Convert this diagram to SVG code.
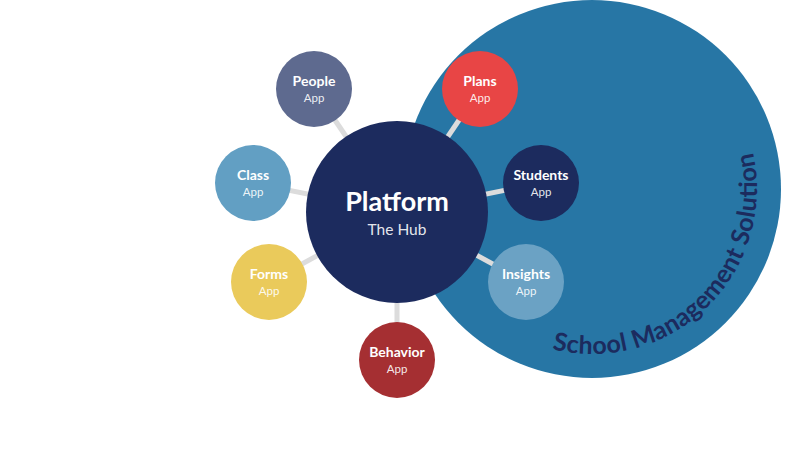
<svg xmlns="http://www.w3.org/2000/svg" xmlns:xlink="http://www.w3.org/1999/xlink" width="800" height="449" viewBox="0 0 800 449">
<style>
.t{font-family:Lato,"Noto Sans",sans-serif;font-weight:700;fill:#fff;text-anchor:middle;font-size:14px}
.s{font-family:Lato,"Noto Sans",sans-serif;font-weight:400;fill:#fff;text-anchor:middle;font-size:11.5px;fill-opacity:0.9}
.c{stroke:#dcdcdc;stroke-width:5;fill:none}
</style>
<defs>
<path id="arc" d="M552.1,349.1 A165,165 0 0 0 752.1,149.1"/>
</defs>
<rect width="800" height="449" fill="#fff"/>
<g id="solution">
<circle cx="592" cy="189" r="189" fill="#2776a5"/>
<text font-family="Lato,'Noto Sans',sans-serif" font-size="25" fill="#1c2b5e" font-weight="700"><textPath xlink:href="#arc" href="#arc" textLength="336" lengthAdjust="spacing">School Management Solution</textPath></text>
</g>
<g id="connectors">
<line class="c" x1="397" y1="212" x2="314" y2="89"/>
<line class="c" x1="397" y1="212" x2="480" y2="89"/>
<line class="c" x1="397" y1="212" x2="253" y2="183"/>
<line class="c" x1="397" y1="212" x2="541" y2="183"/>
<line class="c" x1="397" y1="212" x2="269" y2="282"/>
<line class="c" x1="397" y1="212" x2="526" y2="282"/>
<line class="c" x1="397" y1="212" x2="397" y2="360"/>
</g>
<g id="platform">
<circle cx="397" cy="212" r="91" fill="#1c2b5e"/>
<text class="t" x="397" y="211" style="font-size:27px">Platform</text>
<text class="s" x="397" y="235" style="font-size:15.5px">The Hub</text>
</g>
<g id="people">
<circle cx="314" cy="89" r="38" fill="#5e6a8f"/>
<text class="t" x="314" y="86">People</text>
<text class="s" x="314" y="102">App</text>
</g>
<g id="plans">
<circle cx="480" cy="89" r="38" fill="#e84545"/>
<text class="t" x="480" y="86">Plans</text>
<text class="s" x="480" y="102">App</text>
</g>
<g id="class">
<circle cx="253" cy="183" r="38" fill="#629fc3"/>
<text class="t" x="253" y="180">Class</text>
<text class="s" x="253" y="196">App</text>
</g>
<g id="students">
<circle cx="541" cy="183" r="38" fill="#1c2b5e"/>
<text class="t" x="541" y="180">Students</text>
<text class="s" x="541" y="196">App</text>
</g>
<g id="forms">
<circle cx="269" cy="282" r="38" fill="#eaca5b"/>
<text class="t" x="269" y="279">Forms</text>
<text class="s" x="269" y="295">App</text>
</g>
<g id="insights">
<circle cx="526" cy="282" r="38" fill="#6ba2c4"/>
<text class="t" x="526" y="279">Insights</text>
<text class="s" x="526" y="295">App</text>
</g>
<g id="behavior">
<circle cx="397" cy="360" r="38" fill="#a52f32"/>
<text class="t" x="397" y="357">Behavior</text>
<text class="s" x="397" y="373">App</text>
</g>
</svg>
